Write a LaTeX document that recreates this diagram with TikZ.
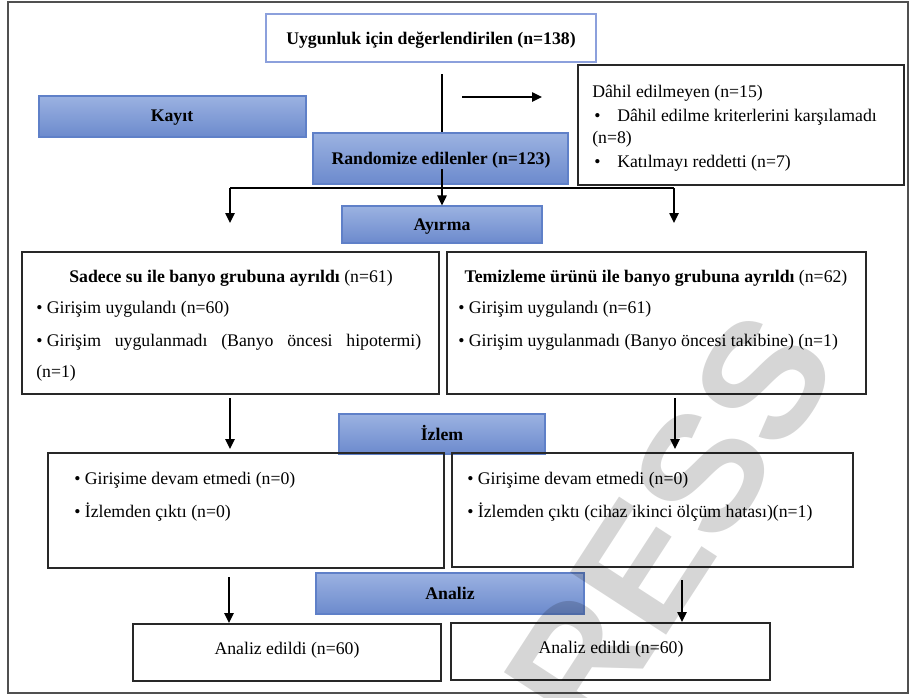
\documentclass[tikz,border=0pt]{standalone}
\usepackage{fontspec}
\setmainfont{Liberation Serif}
\newfontfamily\wmfont{Liberation Sans}
\usetikzlibrary{arrows.meta,fit}
\definecolor{bluetop}{RGB}{155,178,225}
\definecolor{bluebot}{RGB}{108,138,205}
\definecolor{blueline}{RGB}{95,128,200}
\definecolor{topline}{RGB}{140,160,220}
\definecolor{boxline}{RGB}{40,40,40}
\definecolor{frameline}{RGB}{80,80,80}
\definecolor{wmgray}{RGB}{214,214,214}
\begin{document}
\begin{tikzpicture}[x=0.75pt,y=-0.75pt,
  wbox/.style={draw=boxline,line width=1.5pt,inner sep=0pt},
  topbox/.style={draw=topline,line width=1.1pt,inner sep=0pt},
  bbox/.style={draw=blueline,line width=0.8pt,top color=bluetop,bottom color=bluebot,inner sep=0pt},
  txt/.style={inner sep=0pt,font=\fontsize{13.3}{16}\selectfont},
  btxt/.style={inner sep=0pt,font=\fontsize{13.3}{16}\selectfont\bfseries},
  conn/.style={line width=1.1pt,draw=black},
  arr/.style={conn,-{Triangle[length=7.5pt,width=7pt]}},
  wm/.style={inner sep=0pt,text=wmgray,font=\wmfont\bfseries\fontsize{125}{125}\selectfont}
]
\useasboundingbox (0,0) rectangle (910,697);
\draw[frameline,line width=1.2pt] (8,2) rectangle (908,693);

% boxes
\node[topbox,fit={(266,14) (596,62)}] (top) {};
\node[bbox,fit={(39,96) (306,137)}] (kayit) {};
\node[bbox,fit={(313,133) (568,184)}] (rand) {};
\node[wbox,fit={(578,65) (904,185)}] (excl) {};
\node[bbox,fit={(342,206) (542,243)}] (ayirma) {};
\node[wbox,fit={(22,252) (439,394)}] (gleft) {};
\node[wbox,fit={(447,252) (866,394)}] (gright) {};
\node[bbox,fit={(339,414) (545,454)}] (izlem) {};
\node[wbox,fit={(48,453) (444,568)}] (fleft) {};
\node[wbox,fit={(452,453) (853,567)}] (fright) {};
\node[bbox,fit={(316,573) (584,614)}] (analiz) {};
\node[wbox,fit={(133,624) (441,681)}] (aleft) {};
\node[wbox,fit={(451,623) (770,680)}] (aright) {};

% texts
\node[btxt,anchor=base] (ttop) at (431,44) {Uygunluk için değerlendirilen (n=138)};
\node[btxt,anchor=base] (tkayit) at (172,121) {Kayıt};
\node[btxt,anchor=base] (trand) at (441,164) {Randomize edilenler (n=123)};
\node[txt,anchor=base west] (te1) at (592,97) {Dâhil edilmeyen (n=15)};
\node[txt,anchor=base west] (te2b) at (594,121) {•};
\node[txt,anchor=base west] (te2) at (617,121) {Dâhil edilme kriterlerini karşılamadı};
\node[txt,anchor=base west] (te3) at (592,143) {(n=8)};
\node[txt,anchor=base west] (te4b) at (594,167) {•};
\node[txt,anchor=base west] (te4) at (617,167) {Katılmayı reddetti (n=7)};
\node[btxt,anchor=base] (tayirma) at (442,230) {Ayırma};

\node[txt,anchor=base] (tgl0) at (231,282) {\textbf{Sadece su ile banyo grubuna ayrıldı} (n=61)};
\node[txt,anchor=base west] (tgl1) at (36,313) {• Girişim uygulandı (n=60)};
\node[txt,anchor=base west] (tgl2) at (36,346) {\makebox[288.75pt][s]{•\hspace{3.3pt}Girişim uygulanmadı (Banyo öncesi hipotermi)}};
\node[txt,anchor=base west] (tgl3) at (36,377) {(n=1)};
\node[txt,anchor=base] (tgr0) at (656,282) {\textbf{Temizleme ürünü ile banyo grubuna ayrıldı} (n=62)};
\node[txt,anchor=base west] (tgr1) at (458,313) {• Girişim uygulandı (n=61)};
\node[txt,anchor=base west] (tgr2) at (458,346) {• Girişim uygulanmadı (Banyo öncesi takibine) (n=1)};

\node[btxt,anchor=base] (tizlem) at (442,440) {İzlem};
\node[txt,anchor=base west] (tfl1) at (74,484) {• Girişime devam etmedi (n=0)};
\node[txt,anchor=base west] (tfl2) at (74,517) {• İzlemden çıktı (n=0)};
\node[txt,anchor=base west] (tfr1) at (467,484) {• Girişime devam etmedi (n=0)};
\node[txt,anchor=base west] (tfr2) at (467,517) {• İzlemden çıktı (cihaz ikinci ölçüm hatası)(n=1)};

\node[btxt,anchor=base] (tanaliz) at (450,599) {Analiz};
\node[txt,anchor=base] (tal) at (287,654) {Analiz edildi (n=60)};
\node[txt,anchor=base] (tar) at (611,653) {Analiz edildi (n=60)};

% connectors
\coordinate (t1) at (442,74);
\draw[conn] (t1) -- (t1 |- rand.north);
\coordinate (r1) at (442,169);
\draw[arr] (r1) -- (r1 |- ayirma.north);
\coordinate (e1) at (462,97);
\coordinate (e2) at (542,97);
\draw[arr] (e1) -- (e2);
\coordinate (hl) at (230,188);
\coordinate (hr) at (674,188);
\coordinate (hla) at (230,223);
\coordinate (hra) at (674,223);
\draw[conn] (hl) -- (hr);
\draw[arr] (hl) -- (hla);
\draw[arr] (hr) -- (hra);
\coordinate (g1) at (230,398);
\coordinate (g1e) at (230,449);
\coordinate (g2) at (675,398);
\coordinate (g2e) at (675,449);
\draw[arr] (g1) -- (g1e);
\draw[arr] (g2) -- (g2e);
\coordinate (f1) at (229,577);
\coordinate (f2) at (682,580);
\draw[arr] (f1) -- (f1 |- aleft.north);
\draw[arr] (f2) -- (f2 |- aright.north);

% watermark
\begin{scope}[blend mode=multiply]
\clip (0,0) rectangle (910,697);
\node[wm,rotate=57] (wmark) at (640,570) {PRESS};
\end{scope}
\end{tikzpicture}
\end{document}
